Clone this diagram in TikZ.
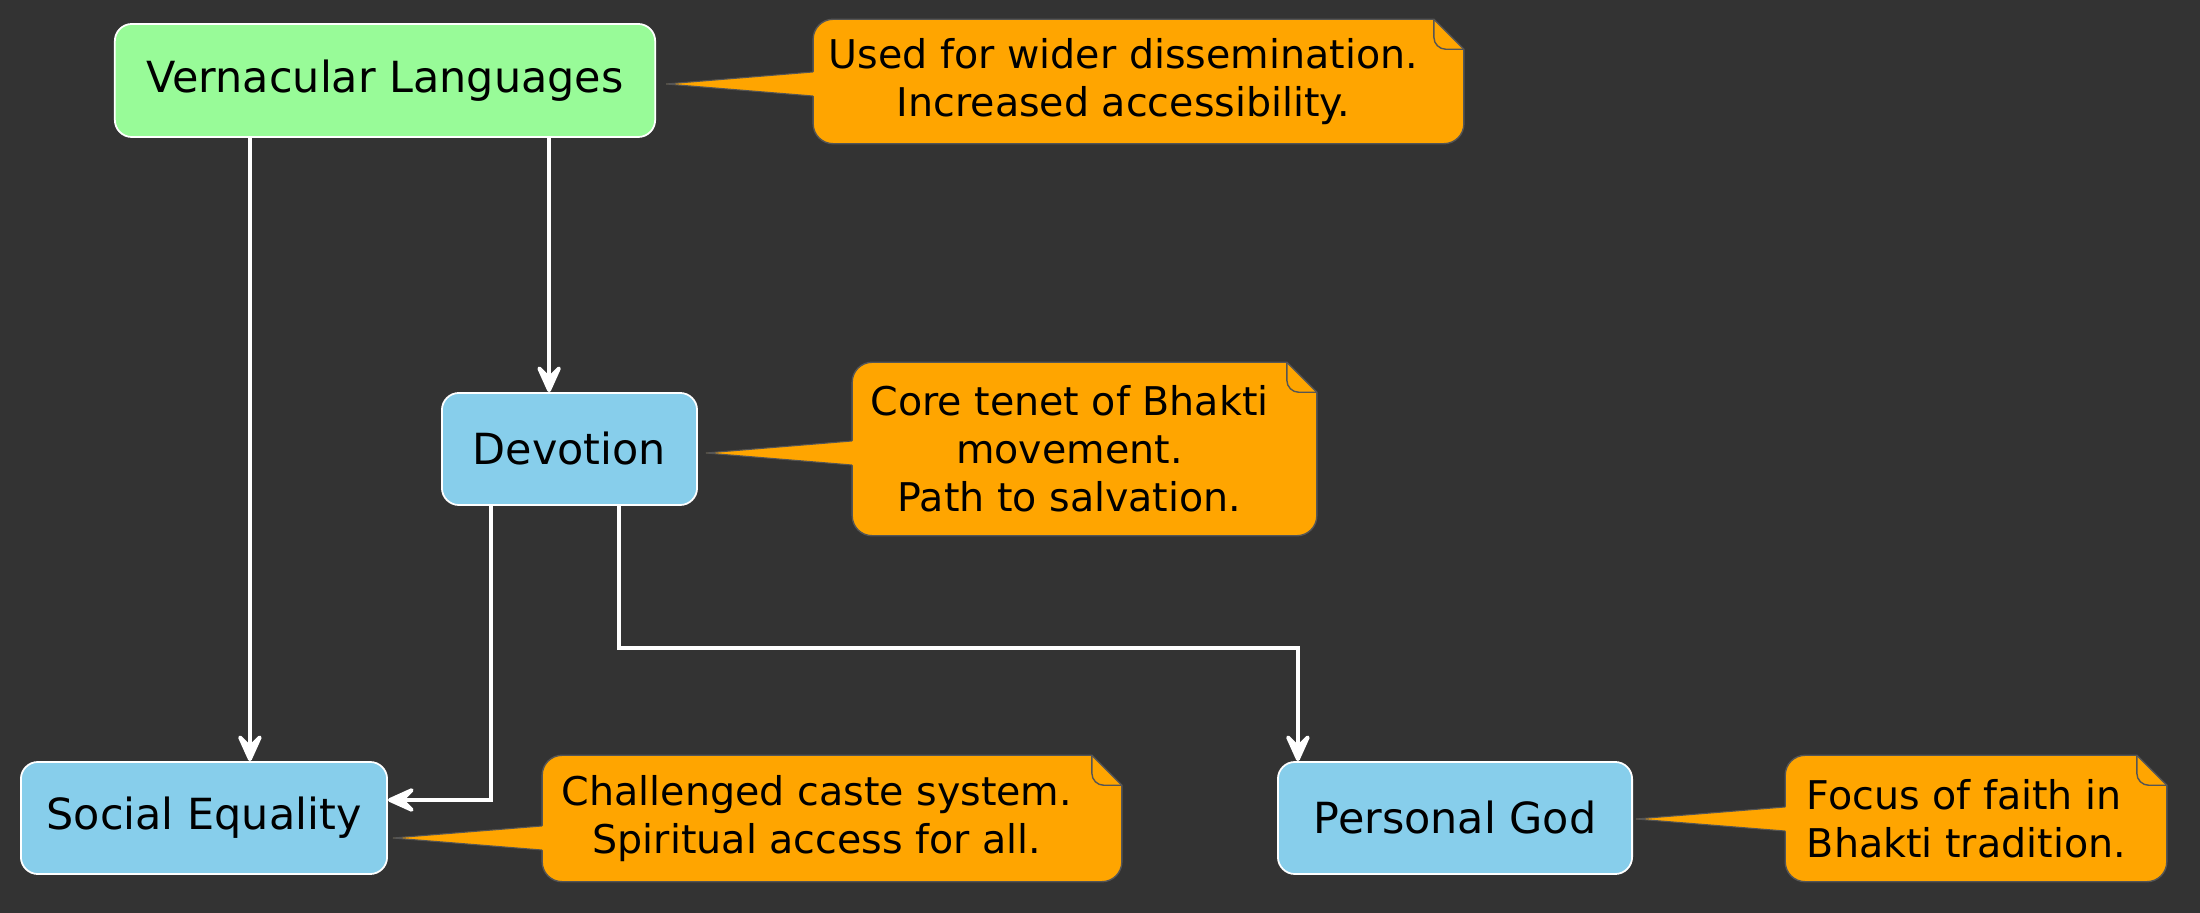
\documentclass[tikz,border=0pt]{standalone}
\usepackage{fontspec}
\setmainfont{DejaVu Sans}
\usetikzlibrary{arrows.meta}
\usetikzlibrary{positioning,calc}
\tikzset{>={Stealth[inset=4.5pt,length=10pt,width=9pt,round]}}
\definecolor{bg}{HTML}{333333}
\definecolor{greenbox}{HTML}{98FB98}
\definecolor{bluebox}{HTML}{87CEEB}
\definecolor{notefill}{HTML}{FFA500}
\definecolor{noteline}{HTML}{555555}
\tikzset{
  topic/.style={draw=white,line width=0.5pt,rounded corners=0.17cm,inner sep=0pt,
    text=black,font=\fontsize{12.2}{14}\selectfont},
  notetext/.style={inner sep=0pt,text=black,font=\fontsize{11.25}{13.6}\selectfont},
  link/.style={->,white,line width=1.1pt},
}
% outline of a note round its text node #1, with the pointer to #2
\newcommand{\notebody}[2]{%
  \filldraw[fill=notefill,draw=noteline,line width=0.4pt]
    let \p1=(#1.north west), \p2=(#1.south east) in
    (\x1,\y1-0.2cm) arc[start angle=180,end angle=90,radius=0.2cm] -- (\x2,\y1)
    -- (\x2+0.3cm,\y1-0.3cm) -- (\x2+0.3cm,\y2+0.2cm)
    arc[start angle=0,end angle=-90,radius=0.2cm] -- (\x1+0.2cm,\y2)
    arc[start angle=270,end angle=180,radius=0.2cm] -- cycle;
  \draw[noteline,line width=0.4pt,rounded corners=0.12cm]
    let \p1=(#1.north east) in (\x1,\y1) -- (\x1,\y1-0.3cm) -- (\x1+0.3cm,\y1-0.3cm);
  \fill[notefill] let \p1=(#1.west), \p3=(#2) in
    (\x1+0.06cm,\y3+0.12cm) -- (\x1,\y3+0.12cm) -- (\p3)
    -- (\x1,\y3-0.12cm) -- (\x1+0.06cm,\y3-0.12cm) -- cycle;
  \draw[noteline,line width=0.3pt] let \p1=(#1.west), \p3=(#2) in
    (\x1,\y3+0.12cm) -- (\p3) -- (\x1,\y3-0.12cm);
}

\begin{document}
\begin{tikzpicture}[x=0.01cm,y=-0.01cm]
    \fill[bg] (0,0) rectangle (2200,913);
    \useasboundingbox (0,0) rectangle (2200,913);
    % topics
    \node[topic,fill=greenbox,minimum width=5.40cm,minimum height=1.13cm] (vl) at (385,80.5) {Vernacular Languages};
    \node[topic,fill=bluebox,minimum width=2.55cm,minimum height=1.12cm] (dev) at (569.5,449) {Devotion};
    \node[topic,fill=bluebox,minimum width=3.66cm,minimum height=1.12cm] (se) at (204,818) {Social Equality};
    \node[topic,fill=bluebox,minimum width=3.54cm,minimum height=1.12cm] (pg) at (1455,818) {Personal God};
    % links
    \draw[link] ([xshift=-1.35cm]vl.south) -- ([xshift=-1.35cm]vl.south |- se.north);
    \draw[link] ([xshift=1.64cm]vl.south) -- ([xshift=1.64cm]vl.south |- dev.north);
    \draw[link] ([xshift=-0.785cm]dev.south) |- ([yshift=0.18cm]se.east);
    \draw[link] ([xshift=0.495cm]dev.south) -- ++(0,-1.42cm) -| ([xshift=-1.57cm]pg.north);
    % notes: the text node is the note without its fold
    \coordinate (t1) at ($(vl.east)+(10,3.5)$);
    \coordinate (t2) at ($(dev.east)+(8,4)$);
    \coordinate (t3) at ($(se.east)+(5,20)$);
    \coordinate (t4) at ($(pg.east)+(3,1)$);
    \path node[notetext,align=center,minimum width=6.19cm,minimum height=1.23cm] (n1) at (1123.5,81.5) {};
    \path node[notetext,align=center,minimum width=4.33cm,minimum height=1.72cm] (n2) at (1069.5,449) {};
    \path node[notetext,align=center,minimum width=5.48cm,minimum height=1.25cm] (n3) at (817,818.5) {};
    \path node[notetext,minimum width=3.50cm,minimum height=1.25cm] (n4) at (1961,818.5) {};
    \notebody{n1}{t1}
    \notebody{n2}{t2}
    \notebody{n3}{t3}
    \notebody{n4}{t4}
    \node[notetext,align=center] (n1t) at (n1) {Used for wider dissemination.\\Increased accessibility.};
    \node[notetext,align=center] (n2t) at (n2) {Core tenet of Bhakti\\movement.\\Path to salvation.};
    \node[notetext,align=center] (n3t) at (n3) {Challenged caste system.\\Spiritual access for all.};
    \node[notetext,align=left,anchor=west] (n4t) at ([xshift=0.21cm]n4.west) {Focus of faith in\\Bhakti tradition.};
\end{tikzpicture}
\end{document}
